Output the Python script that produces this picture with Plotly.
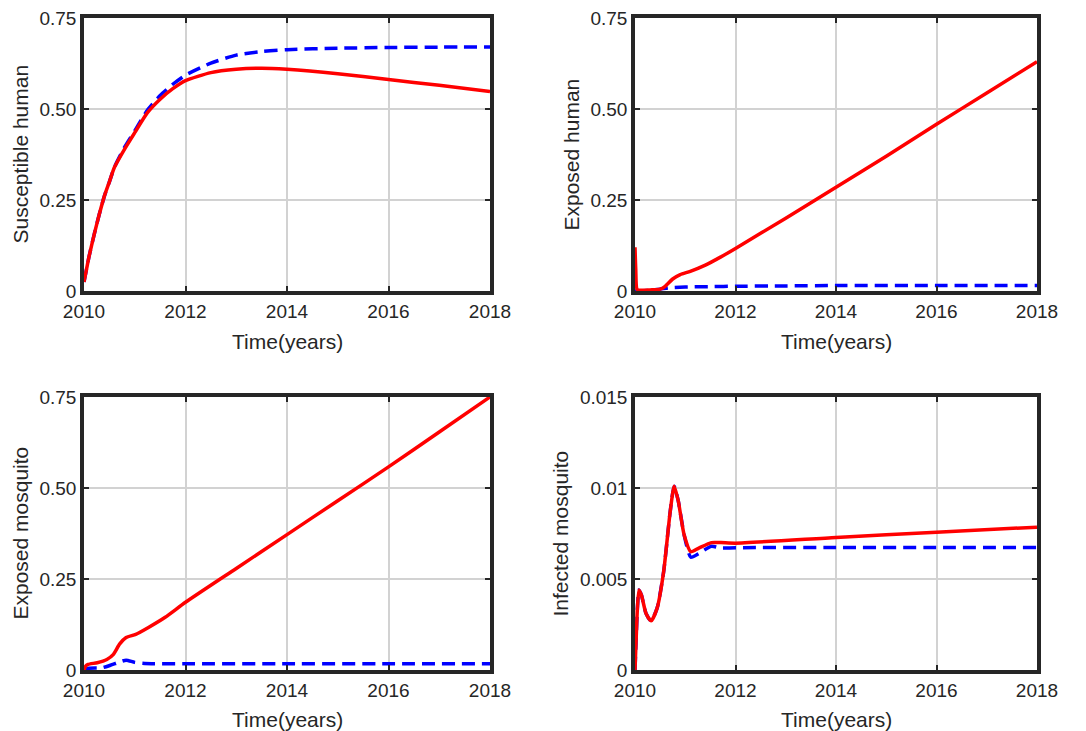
import plotly.graph_objects as go

# ---------------- data ----------------
years = [2010, 2012, 2014, 2016, 2018]
year_labels = ["2010", "2012", "2014", "2016", "2018"]

# Panel 1: Susceptible human
t_sh = [2010.0, 2010.05, 2010.1, 2010.2, 2010.3, 2010.4, 2010.5, 2010.6, 2010.8, 2011.0,
        2011.25, 2011.5, 2011.75, 2012.0, 2012.5, 2013.0, 2013.5, 2014.0, 2015.0, 2016.0,
        2017.0, 2018.0]
sh_red = [0.025, 0.06, 0.095, 0.155, 0.21, 0.26, 0.30, 0.34, 0.39, 0.435,
          0.49, 0.527, 0.556, 0.578, 0.600, 0.609, 0.612, 0.609, 0.597, 0.581,
          0.565, 0.548]
sh_blue = [0.025, 0.06, 0.095, 0.155, 0.21, 0.26, 0.30, 0.34, 0.395, 0.44,
           0.497, 0.537, 0.568, 0.593, 0.626, 0.648, 0.658, 0.663, 0.667, 0.669,
           0.670, 0.670]

# Panel 2: Exposed human
t_eh_red = [2010.0, 2010.015, 2010.04, 2010.1, 2010.3, 2010.5, 2010.6, 2010.75, 2010.9,
            2011.1, 2011.4, 2011.7, 2012.0, 2013.0, 2014.0, 2015.0, 2016.0, 2017.0, 2018.0]
eh_red = [0.12, 0.06, 0.005, 0.002, 0.003, 0.005, 0.013, 0.033, 0.045,
          0.054, 0.071, 0.093, 0.117, 0.2, 0.285, 0.37, 0.458, 0.544, 0.63]
t_eh_blue = [2010.0, 2010.3, 2010.5, 2010.7, 2011.0, 2011.5, 2012.0, 2013.0, 2014.0, 2016.0, 2018.0]
eh_blue = [0.0, 0.002, 0.005, 0.009, 0.011, 0.012, 0.013, 0.014, 0.015, 0.015, 0.015]

# Panel 3: Exposed mosquito
t_em_red = [2010.0, 2010.03, 2010.08, 2010.26, 2010.45, 2010.58, 2010.7, 2010.83, 2011.02,
            2011.27, 2011.6, 2012.0, 2013.0, 2014.0, 2015.0, 2016.0, 2017.0, 2018.0]
em_red = [0.0, 0.01, 0.0155, 0.02, 0.029, 0.043, 0.071, 0.089, 0.098,
          0.117, 0.145, 0.186, 0.279, 0.372, 0.465, 0.558, 0.654, 0.75]
t_em_blue = [2010.0, 2010.1, 2010.35, 2010.52, 2010.7, 2010.83, 2011.0, 2011.2, 2012.0, 2014.0, 2016.0, 2018.0]
em_blue = [0.0, 0.005, 0.006, 0.013, 0.022, 0.027, 0.021, 0.018, 0.017, 0.017, 0.017, 0.017]

# Panel 4: Infected mosquito
t_im = [2010.0, 2010.02, 2010.05, 2010.08, 2010.13, 2010.22, 2010.32, 2010.44, 2010.57, 2010.7,
        2010.78, 2010.86, 2010.98, 2011.11, 2011.27, 2011.52, 2011.71, 2012.0, 2014.0, 2016.0,
        2018.0]
im_red = [0.0, 0.0015, 0.0035, 0.0044, 0.0041, 0.0031, 0.0027, 0.0034, 0.0054, 0.0087,
          0.0101, 0.0093, 0.0074, 0.0065, 0.0067, 0.0070, 0.0070, 0.00697, 0.00728, 0.00757,
          0.00785]
im_blue = [0.0, 0.0015, 0.0035, 0.0044, 0.0041, 0.0031, 0.0027, 0.0034, 0.0054, 0.0087,
           0.0101, 0.0093, 0.0074, 0.0062, 0.0064, 0.0068, 0.0067, 0.00672, 0.00673, 0.00673,
           0.00673]

yt_main = [0, 0.25, 0.5, 0.75]
yt_main_labels = ["0", "0.25", "0.50", "0.75"]
yt_im = [0, 0.005, 0.01, 0.015]
yt_im_labels = ["0", "0.005", "0.01", "0.015"]
x_title = "Time(years)"
y_titles = ["Susceptible human", "Exposed human", "Exposed mosquito", "Infected mosquito"]

panels = [
    dict(tr=t_sh, r=sh_red, tb=t_sh, b=sh_blue, yt=yt_main, ytl=yt_main_labels, yr=[0, 0.75]),
    dict(tr=t_eh_red, r=eh_red, tb=t_eh_blue, b=eh_blue, yt=yt_main, ytl=yt_main_labels, yr=[0, 0.75]),
    dict(tr=t_em_red, r=em_red, tb=t_em_blue, b=em_blue, yt=yt_main, ytl=yt_main_labels, yr=[0, 0.75]),
    dict(tr=t_im, r=im_red, tb=t_im, b=im_blue, yt=yt_im, ytl=yt_im_labels, yr=[0, 0.015]),
]

W, H = 1086, 731
# pixel boxes (left, right, top, bottom)
boxes = [(84, 490, 18, 291), (635, 1037, 18, 291), (84, 490, 397, 670), (635, 1037, 397, 670)]
ytitle_x = [20, 571, 20, 560]
xtitle_y = [341, 341, 719, 719]

FONT = "Liberation Sans, Arial, Helvetica, sans-serif"
AX_COL = "#262626"
GRID_COL = "#D2D2D2"

fig = go.Figure()
layout = {}
annotations = []
for i, p in enumerate(panels):
    n = "" if i == 0 else str(i + 1)
    xa, ya = "x" + n, "y" + n
    l, r, t, b = boxes[i]
    fig.add_trace(go.Scatter(x=p["tb"], y=p["b"], xaxis=xa, yaxis=ya, mode="lines",
                             line=dict(color="#0000FF", width=3.5, dash="13px,7px", shape="spline", smoothing=0.6),
                             showlegend=False, hoverinfo="skip"))
    fig.add_trace(go.Scatter(x=p["tr"], y=p["r"], xaxis=xa, yaxis=ya, mode="lines",
                             line=dict(color="#FF0000", width=3.5, shape="spline", smoothing=0.6),
                             showlegend=False, hoverinfo="skip"))
    layout["xaxis" + n] = dict(
        domain=[l / W, r / W], anchor=ya, range=[2010, 2018], tickvals=years, ticktext=year_labels,
        showline=True, mirror="ticks", linecolor=AX_COL, linewidth=3.5,
        ticks="inside", ticklen=5, tickwidth=2, tickcolor=AX_COL,
        showgrid=True, gridcolor=GRID_COL, gridwidth=2, zeroline=False, automargin=False,
        tickfont=dict(family=FONT, size=19, color=AX_COL),
    )
    layout["yaxis" + n] = dict(
        domain=[(H - b) / H, (H - t) / H], anchor=xa, range=p["yr"], tickvals=p["yt"], ticktext=p["ytl"],
        showline=True, mirror="ticks", linecolor=AX_COL, linewidth=3.5,
        ticks="inside", ticklen=5, tickwidth=2, tickcolor=AX_COL,
        showgrid=True, gridcolor=GRID_COL, gridwidth=2, zeroline=False, automargin=False,
        tickfont=dict(family=FONT, size=19, color=AX_COL),
    )
    annotations.append(dict(text=x_title, xref="paper", yref="paper",
                            x=(l + r) / 2 / W, y=(H - xtitle_y[i]) / H,
                            xanchor="center", yanchor="middle", showarrow=False,
                            font=dict(family=FONT, size=21, color=AX_COL)))
    annotations.append(dict(text=y_titles[i], xref="paper", yref="paper",
                            x=ytitle_x[i] / W, y=(H - (t + b) / 2) / H, textangle=-90,
                            xanchor="center", yanchor="middle", showarrow=False,
                            font=dict(family=FONT, size=21, color=AX_COL)))

fig.update_layout(width=W, height=H, margin=dict(l=0, r=0, t=0, b=0),
                  paper_bgcolor="white", plot_bgcolor="white",
                  annotations=annotations, **layout)
fig.write_html("out.html")
